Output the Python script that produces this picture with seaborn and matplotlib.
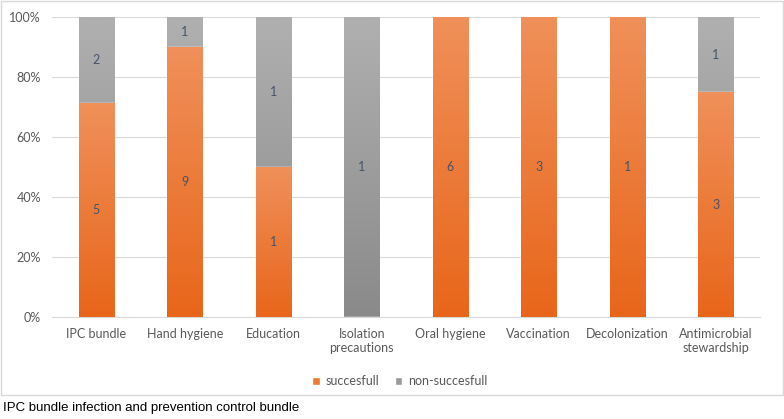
import numpy as np
import pandas as pd
import matplotlib
matplotlib.use('Agg')
import matplotlib.pyplot as plt
from matplotlib.patches import Rectangle
from matplotlib.colors import LinearSegmentedColormap
import seaborn as sb

categories = ['IPC bundle', 'Hand hygiene', 'Education', 'Isolation\nprecautions',
              'Oral hygiene', 'Vaccination', 'Decolonization', 'Antimicrobial\nstewardship']
succesfull = [5, 9, 1, 0, 6, 3, 1, 3]
non_succesfull = [2, 1, 1, 1, 0, 0, 0, 1]

df = pd.DataFrame({'category': categories, 'succesfull': succesfull,
                   'non-succesfull': non_succesfull})
df['total'] = df['succesfull'] + df['non-succesfull']
df['pct_ok'] = df['succesfull'] / df['total'] * 100
df['pct_all'] = 100.0

sb.set_style('white')
plt.rcParams['font.family'] = ['Lato', 'DejaVu Sans']
txt = '#595959'

fig = plt.figure(figsize=(7.84, 4.19), dpi=100)
ax = fig.add_axes([52 / 784, 1 - 317 / 419, 708 / 784, 300 / 419])

# gray = full bar, orange drawn on top
sb.barplot(data=df, x='category', y='pct_all', color='#9a9a9a', width=0.4,
           saturation=1, ax=ax, label='non-succesfull', zorder=2)
n = len(categories)
gray_bars = list(ax.patches)
sb.barplot(data=df, x='category', y='pct_ok', color='#ee7a30', width=0.4,
           saturation=1, ax=ax, label='succesfull', zorder=3)
orange_bars = list(ax.patches)[n:]

# gradient fill on each bar
grad = np.linspace(0, 1, 256).reshape(-1, 1)
cm_or = LinearSegmentedColormap.from_list('o', ['#e8661a', '#f0905a'])
cm_gr = LinearSegmentedColormap.from_list('g', ['#8a8a8a', '#b0b0b0'])
for bars, cm, z in [(gray_bars, cm_gr, 2.5), (orange_bars, cm_or, 3.5)]:
    for p in bars:
        h = p.get_height()
        if h <= 0:
            continue
        x0 = p.get_x()
        w = p.get_width()
        im = ax.imshow(grad, cmap=cm, aspect='auto', origin='lower',
                       extent=(x0, x0 + w, 0, h), zorder=z)
        im.set_clip_path(p)

# count labels
for i, row in df.iterrows():
    if row['succesfull'] > 0:
        ax.text(i, row['pct_ok'] / 2, str(row['succesfull']), ha='center', va='center',
                color='#44546a', fontsize=9, zorder=5)
    if row['non-succesfull'] > 0:
        ax.text(i, (row['pct_ok'] + 100) / 2, str(row['non-succesfull']), ha='center',
                va='center', color='#44546a', fontsize=9, zorder=5)

ax.set_xlim(-0.5, n - 0.5)
ax.set_ylim(0, 100)
ax.set_yticks(range(0, 101, 20))
ax.set_yticklabels([f'{v}%' for v in range(0, 101, 20)])
ax.yaxis.grid(True, color='#d9d9d9', linewidth=0.8, zorder=0)
ax.set_axisbelow(True)
for s in ax.spines.values():
    s.set_visible(False)
ax.spines['bottom'].set_visible(True)
ax.spines['bottom'].set_color('#d9d9d9')
ax.tick_params(axis='both', length=0, colors=txt, labelsize=9, pad=8)
ax.set_xlabel('')
ax.set_ylabel('')

h, l = ax.get_legend_handles_labels()
order = [l.index('succesfull'), l.index('non-succesfull')]
leg = fig.legend([h[k] for k in order], [l[k] for k in order], loc='center',
                 bbox_to_anchor=(400 / 784, 1 - 381 / 419), ncol=2, frameon=False,
                 fontsize=9, handlelength=0.6, handleheight=0.6, handletextpad=0.5,
                 columnspacing=1.2)
for t in leg.get_texts():
    t.set_color(txt)
if ax.get_legend():
    ax.get_legend().remove()

fig.patches.append(Rectangle((1 / 784, 1 - 395 / 419), 782 / 784, 394 / 419,
                             transform=fig.transFigure, fill=False,
                             edgecolor='#d9d9d9', linewidth=1))
fig.text(3 / 784, 1 - 408 / 419, 'IPC bundle infection and prevention control bundle',
         family='Liberation Sans', fontsize=9.5, va='center', ha='left', color='black')

fig.savefig('out.png', dpi=100)
